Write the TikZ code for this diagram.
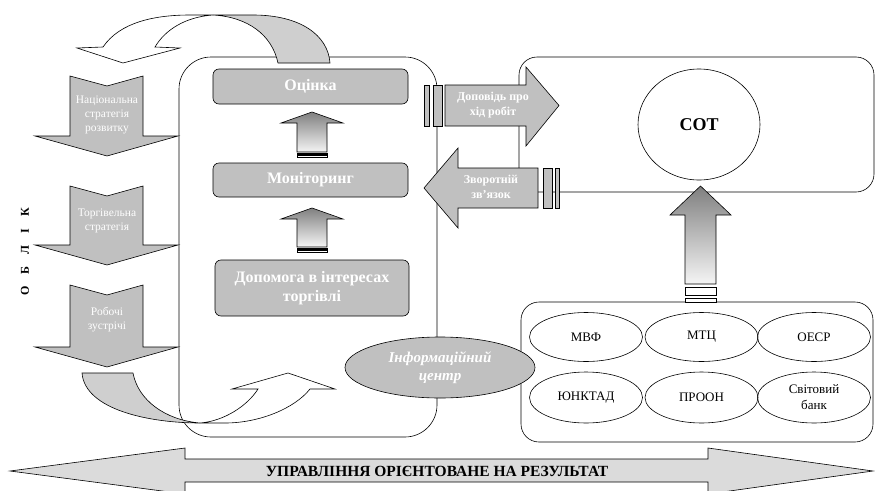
\documentclass[tikz,border=0pt]{standalone}
\usepackage{fontspec}
\setmainfont{Liberation Serif}
\usetikzlibrary{shapes.geometric}
\definecolor{boxgray}{HTML}{C0C0C0}
\definecolor{bandgray}{HTML}{CFCFCF}

\begin{document}
\begin{tikzpicture}[x=1pt, y=-1pt, line width=0.6pt,
    every node/.style = {align=center, inner sep=0pt},
    panel/.style = {draw, rounded corners=#1},
    stage/.style = {draw, fill=boxgray, rounded corners=6pt, minimum width=195pt, text=white,
      font=\fontsize{16}{19}\selectfont\bfseries},
    org/.style = {draw, ellipse, minimum width=113pt, minimum height=49pt, font=\fontsize{13}{16}\selectfont},
    flowtxt/.style = {text=white, font=\fontsize{11.5}{14}\selectfont},
    arrtxt/.style = {text=white, font=\fontsize{12}{15}\selectfont\bfseries},
    grad/.style = {draw, top color=black!50, bottom color=black!4}]
  \useasboundingbox (0,0) rectangle (875,490);

  % containers
  \node[panel=32pt, minimum width=258pt, minimum height=380pt] (wtopanel) at (308,247) {};
  \node[panel=18pt, minimum width=355pt, minimum height=135pt] (sotpanel) at (696.5,124.5) {};
  \node[panel=18pt, minimum width=352pt, minimum height=140pt] (orgpanel) at (697,372) {};

  % curved arrows
  \draw[fill=bandgray] (213,15) -- (253,15) .. controls (300,15) and (328,35) .. (330,63)
    -- (278,63) .. controls (272,35) and (248,17) .. (213,15) -- cycle;
  \draw[fill=white] (103,47) .. controls (120,22) and (155,15) .. (190,15) -- (213,15)
    .. controls (185,17) and (165,30) .. (155,47) -- (180,48) -- (123,63) -- (77,48) -- cycle;
  \draw[fill=bandgray] (82,373) -- (133,373) .. controls (138,400) and (165,420) .. (200,423)
    .. controls (150,423) and (85,410) .. (82,373) -- cycle;
  \draw[fill=white] (200,423) .. controls (225,421) and (248,405) .. (258,389) -- (232,389)
    -- (288,373) -- (335,389) -- (310,389) .. controls (295,408) and (260,423) .. (225,423) -- cycle;

  % ОБЛІК arrows
  \foreach \tp/\hb in {76/136, 186/245, 285/347}
    \draw[fill=boxgray] (70,\tp) -- (107,\tp+10) -- (143,\tp) -- (143,\hb) -- (178,\hb)
      -- (107,\hb+20) -- (35,\hb) -- (70,\hb) -- cycle;
  \node[flowtxt] (nsr) at (107,115) {Національна\\стратегія\\розвитку};
  \node[flowtxt] (ts) at (107,221) {Торгівельна\\стратегія};
  \node[flowtxt] (meet) at (107,320) {Робочі\\зустрічі};
  \node[rotate=90, font=\fontsize{12}{14}\selectfont\bfseries] (oblik) at (25,252)
    {О\hspace{12pt}Б\hspace{12pt}Л\hspace{12pt}І\hspace{12pt}К};

  % stages
  \node[stage, minimum height=35pt] (assess) at (310.5,86.5) {Оцінка};
  \node[stage, minimum height=34pt] (monit) at (310.5,180) {Моніторинг};
  \node[stage, minimum width=194pt, minimum height=56pt] (aid) at (312,288) {Допомога в інтересах\\торгівлі};
  \foreach \tip/\bot in {112/152, 208/247} {
    \draw[grad] (312,\tip) -- (343,\tip+11) -- (327,\tip+11) -- (327,\bot) -- (297,\bot)
      -- (297,\tip+11) -- (281,\tip+11) -- cycle;
    \draw[fill=white] (297,\bot+1) rectangle (327,\bot+2.5) (297,\bot+3.5) rectangle (327,\bot+5);
  }

  % report and feedback
  \draw[fill=boxgray] (445,85) -- (526,85) -- (526,67) -- (559,105.5) -- (526,146) -- (526,126)
    -- (445,126) -- cycle;
  \draw[fill=boxgray] (424,85) rectangle (429,126) (433,85) rectangle (442,126);
  \node[arrtxt] (report) at (493,105) {Доповідь про\\хід робіт};
  \draw[fill=boxgray] (538,168) -- (458,168) -- (458,148) -- (424,188) -- (458,228) -- (458,208)
    -- (538,208) -- cycle;
  \draw[fill=boxgray] (543,168) rectangle (552,208) (555,168) rectangle (559,208);
  \node[arrtxt] (feedback) at (491,187) {Зворотній\\зв’язок};

  % СОТ
  \node[draw, ellipse, minimum width=122pt, minimum height=111pt,
    font=\fontsize{18}{20}\selectfont\bfseries] (sot) at (699,124.5) {СОТ};
  \draw[grad] (700.5,186) -- (731,215) -- (716,215) -- (716,284) -- (685,284) -- (685,215)
    -- (670,215) -- cycle;
  \draw[fill=white] (685,287) rectangle (716,295) (685,298) rectangle (716,302);

  % organisations
  \node[org] (imf) at (586,337) {МВФ};
  \node[org] (itc) at (701.5,337) {МТЦ};
  \node[org] (oecd) at (814,337) {ОЕСР};
  \node[org, minimum height=51pt] (unctad) at (586,397.5) {ЮНКТАД};
  \node[org, minimum height=51pt] (undp) at (701.5,397.5) {ПРООН};
  \node[org, minimum height=51pt] (wb) at (814,397.5) {Світовий\\банк};
  \node[draw, ellipse, fill=boxgray, minimum width=190pt, minimum height=61pt, text=white,
    font=\fontsize{15}{18}\selectfont\bfseries\itshape] (infocentre) at (440,367.5) {Інформаційний\\центр};

  % results
  \draw[fill=gray!28] (10,471) -- (185,448) -- (185,459) -- (708,459) -- (708,448) -- (873,471)
    -- (708,494) -- (708,482) -- (185,482) -- (185,494) -- cycle;
  \node[font=\fontsize{15.5}{17}\selectfont\bfseries] (rbm) at (437,471) {УПРАВЛІННЯ ОРІЄНТОВАНЕ НА РЕЗУЛЬТАТ};
\end{tikzpicture}
\end{document}
